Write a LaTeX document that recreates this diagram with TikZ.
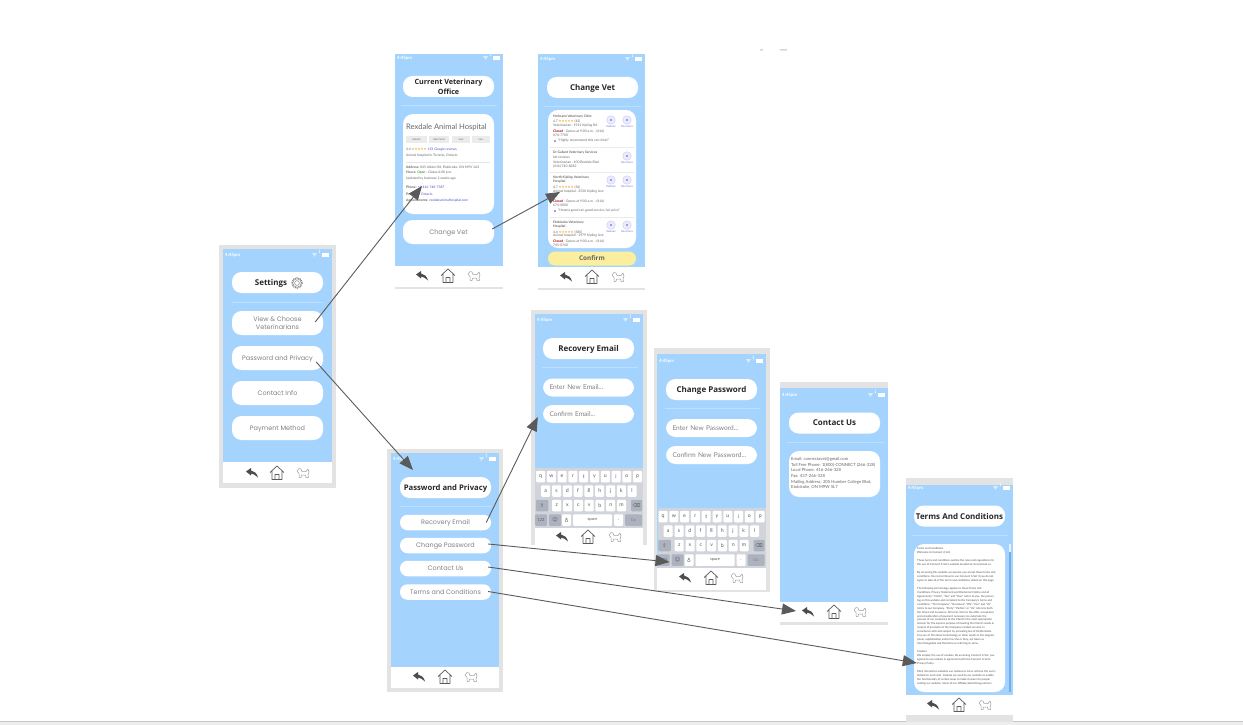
\documentclass[tikz,border=0pt]{standalone}
\usepackage{fontspec}
\setmainfont{Lato}
\newfontfamily\btnfont{Poppins}
\newfontfamily\titlefont{Open Sans}
\newfontfamily\symfont{DejaVu Sans}
\usetikzlibrary{arrows.meta}

\definecolor{framegray}{HTML}{E3E3E3}
\definecolor{screenblue}{HTML}{A4D4FE}
\definecolor{divblue}{HTML}{BCE0FF}
\definecolor{keybg}{HTML}{D1D5DB}
\definecolor{keydark}{HTML}{ACB3BE}
\definecolor{arrowgray}{HTML}{5A5A5A}
\definecolor{confirmyel}{HTML}{FBEE9E}
\definecolor{linkblue}{HTML}{4A4FC4}
\definecolor{starorange}{HTML}{F2A93B}
\definecolor{scrollblue}{HTML}{6FAEEB}

\newcounter{tl}
\newcommand{\fs}[1]{\fontsize{#1}{#1}\selectfont}
\newcommand{\cardline}[4][]{\stepcounter{tl}\node[tinyline,#1] (tl\thetl) at (#2,#3) {#4};}
\newcommand{\starsrow}{\textcolor{starorange}{\symfont ★★★★★}}

\newcommand{\phone}[9]{
    \fill[framegray] (#1,#2) rectangle (#3,#4);
    \fill[screenblue] (#5,#7) rectangle (#6,#8);
    \fill[white] (#5,#8) rectangle (#6,#9);
}
\newcommand{\statusbar}[3]{
    \cardline[text=white,font=\bfseries\fs{4.4}]{#1+2}{#3}{4:45pm}
    \fill[white,opacity=.55] (#2-20,#3-1.8) -- (#2-15,#3-1.8) -- (#2-17.5,#3+1.8) -- cycle;
    \draw[white,line width=.4pt] (#2-12,#3-1.8) arc (120:240:2.1);
    \fill[white] (#2-10,#3-1.8) rectangle (#2-3,#3+1.8);
}
\newcommand{\divider}[3]{\draw[divblue,line width=.6pt] (#1,#3) -- (#2,#3);}
\newcommand{\navbar}[5]{
    \coordinate (#5) at (#1,#4);
    \begin{scope}[shift={(#1,#4)}]
        \fill[arrowgray!85!black] (-6,-1.5) -- (-1,-5) -- (-1,-2.5) .. controls (2,-2) and (5,0) .. (6,4.5)
            .. controls (3,2) and (1,.5) .. (-1,.5) -- (-1,2.5) -- cycle;
    \end{scope}
    \begin{scope}[shift={(#2,#4)}]
        \draw[arrowgray,line width=.7pt,line join=round] (-7,-.5) -- (0,-7) -- (7,-.5) (-5,-2) -- (-5,6.5) -- (5,6.5) -- (5,-2)
            (-2,6.5) -- (-2,1.5) -- (2,1.5) -- (2,6.5);
    \end{scope}
    \begin{scope}[shift={(#3,#4)}]
        \draw[gray!75,line width=.5pt,line join=round] (-6,-2) -- (-4,-4.5) -- (-2,-4) -- (-1,-1.5) -- (3,-1.5) -- (5,-4)
            -- (6,-1) -- (5,2) -- (5.5,4.5) -- (3,4.5) -- (2.5,2) -- (-1.5,2) -- (-2,4.5) -- (-4,4.5) -- (-4,.5) -- cycle;
    \end{scope}
}
\newcommand{\keyboard}[3]{
    \fill[keybg] (#1,#2) rectangle (#1+108,#2+60);
    \foreach \k [count=\i] in {q,w,e,r,t,y,u,i,o,p}
        \node[keycap] (#3a\i) at (#1+5.5+10.8*\i-10.8,#2+8.5) {\k};
    \foreach \k [count=\i] in {a,s,d,f,g,h,j,k,l}
        \node[keycap] (#3b\i) at (#1+10.7+10.8*\i-10.8,#2+23) {\k};
    \foreach \k [count=\i] in {z,x,c,v,b,n,m}
        \node[keycap] (#3c\i) at (#1+21.7+10.8*\i-10.8,#2+37.5) {\k};
    \node[keycap,fill=keydark,minimum width=12.5pt] (#3shift) at (#1+7,#2+37.5) {\symfont ⇧};
    \node[keycap,fill=keydark,minimum width=11pt] (#3del) at (#1+101.5,#2+37.5) {\symfont ⌫};
    \node[keycap,fill=keydark,minimum width=12pt,font=\fs{4}] (#3num) at (#1+6,#2+52) {123};
    \node[keycap,fill=keydark,minimum width=12pt] (#3emoji) at (#1+20,#2+52) {\symfont ☺};
    \node[keycap] (#3mic) at (#1+31.5,#2+52) {\symfont ♁};
    \node[keycap,minimum width=39pt,font=\fs{4}] (#3space) at (#1+57.5,#2+52) {space};
    \node[keycap] (#3dot) at (#1+83.5,#2+52) {.};
    \node[keycap,fill=keydark,minimum width=17pt,text=gray,font=\fs{4}] (#3go) at (#1+98.5,#2+52) {Go};
}
\newcommand{\vetaction}[3]{
    \stepcounter{tl}
    \node[vetdot] (tl\thetl) at (#1,#2) {};
    \fill[linkblue!70] (#1,#2) circle (1.2);
    \cardline[anchor=center,text=linkblue!80,font=\fs{2.6}]{#1}{#2+7}{#3}
}

\begin{document}
\begin{tikzpicture}[x=1pt,y=-1pt,
    titlepill/.style={fill=white, rounded corners=9.5pt, minimum width=91pt, minimum height=21pt,
                      inner sep=0pt, align=center, text depth=0pt, font=\titlefont\bfseries\fs{8}, text=black!85},
    btnpill/.style={fill=white, rounded corners=9.5pt, minimum width=91pt, minimum height=24pt,
                    inner sep=0pt, align=center, text depth=0pt, font=\btnfont\fs{6.45}, text=black!50},
    smallpill/.style={btnpill, rounded corners=7.5pt, minimum height=15.5pt},
    inputpill/.style={btnpill, minimum height=18pt, text width=78pt, inner xsep=6.5pt, align=left,
                      font=\fs{6.6}, text=black!50},
    cardbox/.style={fill=white, rounded corners=10pt, inner sep=0pt, minimum width=91pt},
    tinyline/.style={anchor=west, inner sep=0pt, font=\fs{3.35}, text=black!60},
    keycap/.style={fill=white, rounded corners=1pt, inner sep=0pt, minimum width=9pt, minimum height=11.5pt,
                   font=\fs{5.2}, text=black!65},
    vetdot/.style={circle, fill=blue!8, draw=linkblue!35, line width=.3pt, inner sep=0pt, minimum size=8.5pt},
    flow/.style={-{Triangle[length=14pt,width=11pt]}, arrowgray, line width=.9pt}
]
    \path[use as bounding box] (0,0) rectangle (1243,725);
    \fill[black!7] (0,721) rectangle (1243,725);
    \fill[black!22] (0,721) rectangle (1243,722);
    \fill[black!25] (760,49.5) rectangle (763,50.5) (780,49.5) rectangle (787,50.5);

    \phone{219}{245}{336}{488}{223}{332}{249}{462}{483}
    \statusbar{223}{332}{255}
    \node[titlepill] (settingsT) at (277.5,282.5) {Settings\hspace{13pt}};
    \begin{scope}[shift={(297,283)}]
        \draw[gray,line width=.5pt] (0,0) circle (2.4);
        \draw[gray,line width=1.2pt,dash pattern=on .9pt off .9pt] (0,0) circle (5.2);
        \draw[gray,line width=.4pt] (0,0) circle (4.2);
    \end{scope}
    \divider{232}{323}{302}
    \node[btnpill] (viewvets) at (277.5,323) {View \& Choose\\[1.5pt]Veterinarians};
    \node[btnpill] (passbtn) at (277.5,358) {Password and Privacy};
    \node[btnpill] (infobtn) at (277.5,393) {Contact Info};
    \node[btnpill] (paybtn) at (277.5,428) {Payment Method};
    \navbar{252}{277}{303}{473}{settingsN}

    \phone{395}{54}{503}{289}{395}{503}{54}{266}{287}
    \statusbar{395}{503}{58}
    \node[titlepill,font=\titlefont\bfseries\fs{7.2}] (officeT) at (448.5,86.5) {Current Veterinary\\[1.5pt]Office};
    \divider{401}{497}{105}
    \node[cardbox,minimum height=100pt] (officecard) at (448.5,164) {};
    \cardline[font=\fs{7.6}]{406}{127}{Rexdale Animal Hospital}
    \foreach \bx/\bw/\bt [count=\i] in {416.5/21/WEBSITE,439/20/DIRECTIONS,461/18/SAVE,481/18/CALL}
        \node[fill=black!8,inner sep=0pt,minimum width=\bw pt,minimum height=7pt,font=\fs{2},text=black!65] (officeB\i) at (\bx,139.5) {\bt};
    \cardline{406}{149.5}{4.4 \starsrow{} \textcolor{linkblue}{153 Google reviews}}
    \cardline{406}{155.5}{Animal hospital in Toronto, Ontario}
    \draw[black!10,line width=.3pt] (406,162.5) -- (490,162.5);
    \cardline{406}{167}{\textbf{Address:} 845 Albion Rd, Etobicoke, ON M9V 1A3}
    \cardline{406}{173}{\textbf{Hours:} \textcolor{green!50!black}{Open} · Closes 6:00 p.m.}
    \cardline{406}{179}{Updated by business 2 weeks ago}
    \cardline{406}{187}{\textbf{Phone:} \textcolor{linkblue}{+1 416-740-7387}}
    \cardline{406}{194}{\textbf{Province:} \textcolor{linkblue}{Ontario}}
    \cardline{406}{201}{\textbf{Appointments:} \textcolor{linkblue}{rexdaleanimalhospital.com}}
    \node[btnpill] (changevet) at (448.5,232) {Change Vet};
    \navbar{422}{448}{474}{276}{officeN}

    \phone{538}{54}{645}{290}{538}{645}{54}{267}{288}
    \statusbar{538}{645}{59}
    \node[titlepill] (vetT) at (592.5,87.5) {Change Vet};
    \divider{544}{641}{106}
    \node[cardbox,minimum width=88pt,minimum height=138pt] (vetcard) at (592,179) {};
    \cardline[font=\bfseries\fs{3.3}]{553}{117}{Hofmann Veterinary Clinic}
    \cardline{553}{121.5}{4.7 \starsrow{} (42)}
    \cardline{553}{126}{Veterinarian · 1911 Kipling Rd}
    \cardline{553}{131}{\textcolor{red!70!black}{\textbf{Closed}} · Opens at 9:00 a.m. · (416)}
    \cardline{553}{135}{674-7700}
    \fill[linkblue!70] (555,141) circle (1.2);
    \cardline{558}{141}{“Highly recommend this vet clinic!”}
    \vetaction{611}{120}{Website}
    \vetaction{627}{120}{Directions}
    \draw[black!8,line width=.3pt] (550,147) -- (634,147);
    \cardline[font=\bfseries\fs{3.3}]{553}{153}{Dr Gallant Veterinary Services}
    \cardline{553}{157.5}{No reviews}
    \cardline{553}{162}{Veterinarian · 100 Rexdale Blvd}
    \cardline{553}{166}{(416) 740-8282}
    \vetaction{627}{156}{Directions}
    \draw[black!8,line width=.3pt] (550,172) -- (634,172);
    \cardline[font=\bfseries\fs{3.3}]{553}{178}{North Kipling Veterinary}
    \cardline[font=\bfseries\fs{3.3}]{553}{182}{Hospital}
    \cardline{553}{187}{4.7 \starsrow{} (56)}
    \cardline{553}{192}{Animal hospital · 2530 Kipling Ave}
    \cardline{553}{196}{\#5}
    \cardline{553}{201}{\textcolor{red!70!black}{\textbf{Closed}} · Opens at 9:00 a.m. · (416)}
    \cardline{553}{205}{674-0000}
    \fill[linkblue!70] (555,211) circle (1.2);
    \cardline{558}{211}{“Honest good vet, good service, fair price”}
    \vetaction{611}{180}{Website}
    \vetaction{627}{180}{Directions}
    \draw[black!8,line width=.3pt] (550,217) -- (634,217);
    \cardline[font=\bfseries\fs{3.3}]{553}{223}{Etobicoke Veterinary}
    \cardline[font=\bfseries\fs{3.3}]{553}{227}{Hospital}
    \cardline{553}{232}{4.4 \starsrow{} (380)}
    \cardline{553}{236}{Animal hospital · 1979 Kipling Ave}
    \cardline{553}{241}{\textcolor{red!70!black}{\textbf{Closed}} · Opens at 9:00 a.m. · (416)}
    \cardline{553}{245}{745-0760}
    \vetaction{611}{225}{Website}
    \vetaction{627}{225}{Directions}
    \node[btnpill,fill=confirmyel,minimum width=88pt,minimum height=14pt,rounded corners=7pt,
          font=\titlefont\bfseries\fs{6.4},text=black!60] (confirm) at (592,258.5) {Confirm};
    \navbar{566}{592}{618}{277}{vetN}

    \phone{387}{449}{503}{692}{391}{499}{453}{667}{688}
    \statusbar{391}{499}{459}
    \node[titlepill,font=\titlefont\bfseries\fs{7.7}] (ppT) at (445.5,487.5) {Password and Privacy};
    \divider{400}{491}{506}
    \node[smallpill] (recbtn) at (445.5,522.5) {Recovery Email};
    \node[smallpill] (chgbtn) at (445.5,545.5) {Change Password};
    \node[smallpill] (usbtn) at (445.5,568.5) {Contact Us};
    \node[smallpill] (termsbtn) at (445.5,592) {Terms and Conditions};
    \navbar{419}{445}{471}{677}{ppN}

    \phone{531}{310}{647}{545}{535}{643}{314}{528}{545}
    \statusbar{535}{643}{320}
    \node[titlepill] (recT) at (588.5,348.5) {Recovery Email};
    \divider{542}{638}{367}
    \node[inputpill] (newemail) at (588.5,387.5) {Enter New Email...};
    \node[inputpill] (confemail) at (588.5,414) {Confirm Email...};
    \keyboard{535}{468}{rk}
    \navbar{562}{588}{615}{537}{recN}

    \phone{654}{348}{770}{592}{657}{766}{354}{568}{590}
    \statusbar{657}{766}{361}
    \node[titlepill] (cpT) at (711.5,389.5) {Change Password};
    \divider{665}{760}{408}
    \node[inputpill] (newpass) at (711.5,428) {Enter New Password...};
    \node[inputpill] (confpass) at (711.5,455) {Confirm New Password...};
    \keyboard{657.5}{508}{ck}
    \navbar{685}{711}{737}{578}{cpN}

    \phone{780}{382}{888}{625}{780}{888}{388}{602}{622}
    \statusbar{780}{888}{395}
    \node[titlepill] (usT) at (834.5,423) {Contact Us};
    \divider{787}{884}{442}
    \node[cardbox,minimum height=46pt] (uscard) at (834.5,474) {};
    \node[tinyline,anchor=north west,align=left,font=\fs{4.2}] (ustext) at (791,457.5)
        {Email: connectavet@gmail.com\\[1.4pt]
         Toll Free Phone: 1(800)-CONNECT (266-328)\\[1.4pt]
         Local Phone: 416-266-328\\[1.4pt]
         Fax: 437-266-328\\[1.4pt]
         Mailing Address: 205 Humber College Blvd,\\[1.2pt]
         Etobicoke, ON M9W 5L7};
    \navbar{808}{834}{860}{612}{usN}

    \phone{906}{478}{1013}{722}{906}{1013}{485}{695}{715}
    \statusbar{906}{1013}{488}
    \node[titlepill] (termsT) at (959.5,516) {Terms And Conditions};
    \divider{912}{1008}{535}
    \node[cardbox,minimum height=148pt] (termscard) at (959.5,618) {};
    \node[tinyline,anchor=north west,align=left,font=\fs{2.75},text=black!70] (termstext) at (917,547.5)
        {Terms and Conditions\\[1.2pt]
         Welcome to Connect A Vet.\\[5.2pt]
         These terms and conditions outline the rules and regulations for\\[1.2pt]
         the use of Connect A Vet's website located at connectavet.ca.\\[5.2pt]
         By accessing this website we assume you accept these terms and\\[1.2pt]
         conditions. Do not continue to use Connect A Vet if you do not\\[1.2pt]
         agree to take all of the terms and conditions stated on this page.\\[5.2pt]
         The following terminology applies to these Terms and\\[1.2pt]
         Conditions, Privacy Statement and Disclaimer Notice and all\\[1.2pt]
         Agreements: "Client", "You" and "Your" refers to you, the person\\[1.2pt]
         log on this website and compliant to the Company's terms and\\[1.2pt]
         conditions. "The Company", "Ourselves", "We", "Our" and "Us"\\[1.2pt]
         refers to our Company. "Party", "Parties", or "Us", refers to both\\[1.2pt]
         the Client and ourselves. All terms refer to the offer, acceptance\\[1.2pt]
         and consideration of payment necessary to undertake the\\[1.2pt]
         process of our assistance to the Client in the most appropriate\\[1.2pt]
         manner for the express purpose of meeting the Client's needs in\\[1.2pt]
         respect of provision of the Company's stated services, in\\[1.2pt]
         accordance with and subject to, prevailing law of Netherlands.\\[1.2pt]
         Any use of the above terminology or other words in the singular,\\[1.2pt]
         plural, capitalization and/or he/she or they, are taken as\\[1.2pt]
         interchangeable and therefore as referring to same.\\[5.2pt]
         Cookies\\[1.2pt]
         We employ the use of cookies. By accessing Connect A Vet, you\\[1.2pt]
         agreed to use cookies in agreement with the Connect A Vet's\\[1.2pt]
         Privacy Policy.\\[5.2pt]
         Most interactive websites use cookies to let us retrieve the user's\\[1.2pt]
         details for each visit. Cookies are used by our website to enable\\[1.2pt]
         the functionality of certain areas to make it easier for people\\[1.2pt]
         visiting our website. Some of our affiliate/advertising partners};
    \fill[white!70!screenblue] (1008.5,544) rectangle (1011,552);
    \fill[scrollblue] (1008.5,552) rectangle (1011,692);
    \navbar{933}{959}{985}{705}{termsN}

    \draw[flow] ([shift={(-8,-1)}]viewvets.east) -- ([shift={(-26.5,22)}]officecard.center);
    \draw[flow] ([shift={(-7,4)}]passbtn.east) -- ([shift={(-32.5,-17.5)}]ppT.center);
    \draw[flow] ([shift={(-2,-3)}]changevet.east) -- ([shift={(-32,13)}]vetcard.center);
    \draw[flow] ([shift={(-5,0)}]recbtn.east) -- ([shift={(-5,3)}]confemail.west);
    \draw[flow] ([shift={(-3,-1.5)}]chgbtn.east) -- ([shift={(6,2)}]cknum.center);
    \draw[flow] ([shift={(-3,-1.5)}]usbtn.east) -- ([shift={(-12,-1)}]usN);
    \draw[flow] ([shift={(-3,-.5)}]termsbtn.east) -- ([shift={(3,45)}]termscard.west);
\end{tikzpicture}
\end{document}
